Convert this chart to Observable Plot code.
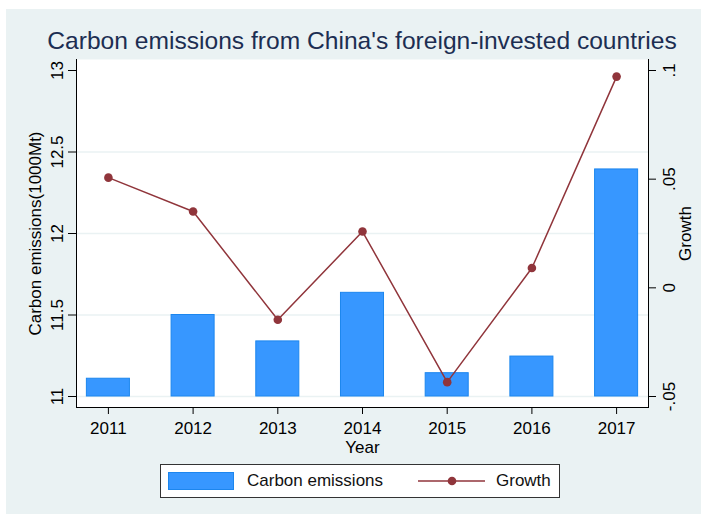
<!DOCTYPE html>
<html>
<head>
<meta charset="utf-8">
<script src="https://cdn.jsdelivr.net/npm/d3@7"></script>
<script src="https://cdn.jsdelivr.net/npm/@observablehq/plot@0.6"></script>
<style>
  html, body { margin: 0; padding: 0; background: #ffffff; }
  #wrap { position: relative; width: 701px; height: 514px; overflow: hidden; font-family: "Liberation Sans", Arial, sans-serif; }
  #bg { position: absolute; left: 6px; top: 9px; right: 0; bottom: 0; background: #EAF2F3; }
  #chart { position: absolute; left: 0; top: 0; }
  #title { position: absolute; left: 0; width: 724px; top: 26px; text-align: center; font-size: 24.6px; color: #1C2E52; white-space: nowrap; line-height: 30px; }
  #legend { position: absolute; left: 160px; top: 464px; width: 398px; height: 32px; background: #fff; border: 1.5px solid #333; box-sizing: content-box; }
  #legend .sw { position: absolute; left: 7px; top: 7px; width: 66px; height: 18px; background: #3797FF; border: 1px solid #1C86EE; box-sizing: border-box; }
  #legend .t { position: absolute; top: 5px; font-size: 17px; color: #111; line-height: 22px; white-space: nowrap; }
  #legend svg { position: absolute; left: 257px; top: 6px; }
</style>
</head>
<body>
<div id="wrap">
  <div id="bg"></div>
  <div id="chart"></div>
  <div id="title">Carbon emissions from China's foreign-invested countries</div>
  <div id="legend">
    <div class="sw"></div>
    <div class="t" style="left:86px">Carbon emissions</div>
    <svg width="68" height="20"><line x1="0" y1="10" x2="67" y2="10" stroke="#90353B" stroke-width="1.5"/><circle cx="34" cy="10" r="4.3" fill="#90353B"/></svg>
    <div class="t" style="left:335px">Growth</div>
  </div>
</div>
<script>
// ---- data ----
const years = [2011, 2012, 2013, 2014, 2015, 2016, 2017];
const emissions = [11.109, 11.500, 11.338, 11.636, 11.143, 11.245, 12.393];
const growth = [0.0507, 0.0351, -0.0147, 0.0259, -0.0434, 0.0091, 0.0972];
const leftTicks = [11, 11.5, 12, 12.5, 13];
const leftTickLabels = ["11", "11.5", "12", "12.5", "13"];
const rightTicks = [-0.05, 0, 0.05, 0.1];
const rightTickLabels = ["-.05", "0", ".05", ".1"];

// map growth onto the left (emissions) scale: -0.05 -> 11, 0.1 -> 13
const g2y = g => 11 + (g + 0.05) / 0.15 * 2;

const rows = years.map((yr, i) => ({year: yr, emissions: emissions[i], growth: growth[i], gy: g2y(growth[i])}));

const W = 701, H = 514;
const mL = 76, mR = 53, mT = 59, mB = 107;
const innerH = H - mT - mB; // 348
const pxPerUnit = 326 / 2;
const pad = (innerH - 326) / 2 / pxPerUnit;
const stepPx = 84.7, padX = 31.9;
const xPad = padX / stepPx;

const font = '"Liberation Sans", Arial, sans-serif';
const lineColor = "#90353B";

const chart = Plot.plot({
  width: W,
  height: H,
  marginLeft: mL,
  marginRight: mR,
  marginTop: mT,
  marginBottom: mB,
  style: {background: "transparent", fontFamily: font, fontSize: "17px", color: "#000"},
  x: {type: "linear", domain: [2011 - xPad, 2017 + xPad]},
  y: {type: "linear", domain: [11 - pad, 13 + pad]},
  marks: [
    Plot.frame({fill: "#ffffff", stroke: null}),
    Plot.ruleY([11, 11.5, 12, 12.5], {stroke: "#EAF2F3", strokeWidth: 1.5}),
    Plot.rectY(rows, {x1: d => d.year - 0.254, x2: d => d.year + 0.254, y1: 11, y2: "emissions", fill: "#3797FF", stroke: "#1C86EE", strokeWidth: 1}),
    Plot.line(rows, {x: "year", y: "gy", stroke: lineColor, strokeWidth: 1.5}),
    Plot.dot(rows, {x: "year", y: "gy", r: 4.3, fill: lineColor, stroke: null}),
    // axis lines
    Plot.frame({anchor: "left", stroke: "#000", strokeWidth: 1}),
    Plot.frame({anchor: "right", stroke: "#000", strokeWidth: 1}),
    Plot.frame({anchor: "bottom", stroke: "#000", strokeWidth: 1}),
    // x axis
    Plot.axisX(years, {anchor: "bottom", tickSize: 7, tickPadding: 7, tickFormat: d => String(d), label: null, fontSize: 17, stroke: "#000"}),
    Plot.text(["Year"], {frameAnchor: "bottom", dy: 40, text: d => d, fontSize: 17, fill: "#000", lineAnchor: "middle", textAnchor: "middle"}),
    // left axis
    Plot.axisY(leftTicks, {anchor: "left", tickSize: 8, tickFormat: d => leftTickLabels[leftTicks.indexOf(d)], tickRotate: -90, textAnchor: "middle", lineAnchor: "bottom", tickPadding: 6, label: null, fontSize: 17}),
    Plot.text(["Carbon emissions(1000Mt)"], {frameAnchor: "left", dx: -41, text: d => d, rotate: -90, fontSize: 17, fill: "#000", lineAnchor: "middle", textAnchor: "middle"}),
    // right axis (growth)
    Plot.axisY(rightTicks.map(g2y), {anchor: "right", tickSize: 7, tickFormat: d => rightTickLabels[rightTicks.map(g2y).indexOf(d)], tickRotate: -90, textAnchor: "middle", lineAnchor: "top", tickPadding: 7, label: null, fontSize: 17}),
    Plot.text(["Growth"], {frameAnchor: "right", dx: 37, text: d => d, rotate: -90, fontSize: 17, fill: "#000", lineAnchor: "middle", textAnchor: "middle"})
  ]
});
document.getElementById("chart").appendChild(chart);
</script>
</body>
</html>
